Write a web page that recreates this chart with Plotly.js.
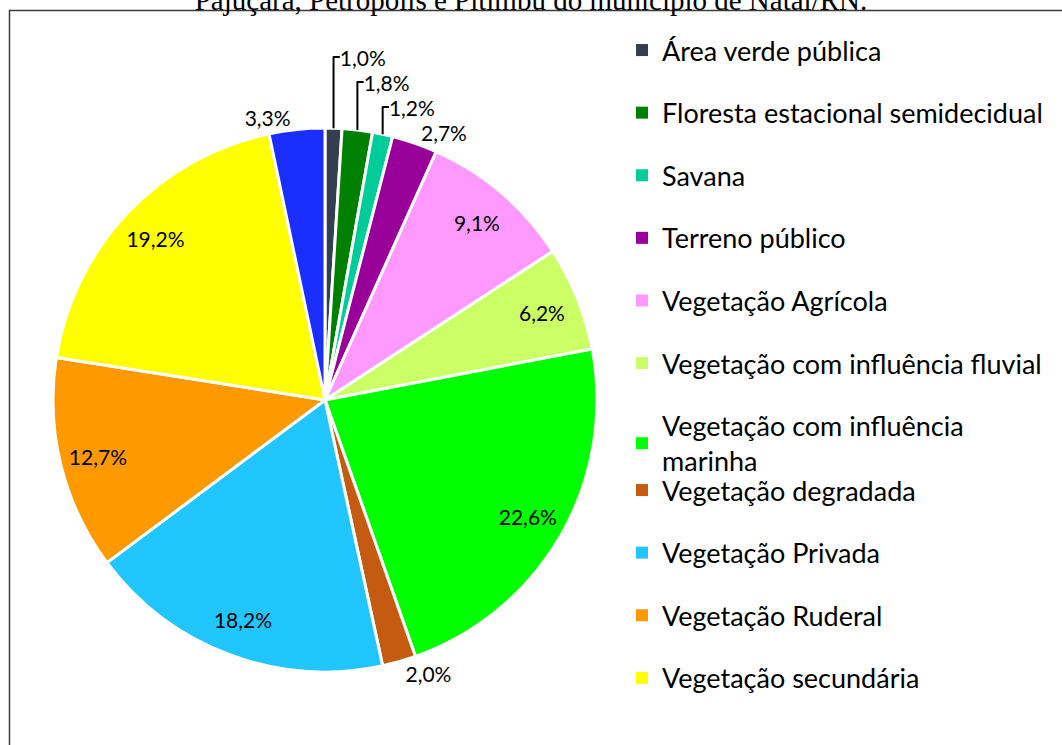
<!DOCTYPE html>
<html>
<head>
<meta charset="utf-8">
<script src="https://cdn.plot.ly/plotly-3.0.1.min.js"></script>
<style>html,body{margin:0;padding:0;background:#fff}#chart{width:1062px;height:745px}</style>
</head>
<body>
<div id="chart"></div>
<script>
// ---- data ----
const labels = [
  "Área verde pública",
  "Floresta estacional semidecidual",
  "Savana",
  "Terreno público",
  "Vegetação Agrícola",
  "Vegetação com influência fluvial",
  "Vegetação com influência marinha",
  "Vegetação degradada",
  "Vegetação Privada",
  "Vegetação Ruderal",
  "Vegetação secundária",
  "Outros"
];
const values = [1.0, 1.8, 1.2, 2.7, 9.1, 6.2, 22.6, 2.0, 18.2, 12.7, 19.2, 3.3];
const colors = ["#333F50", "#008000", "#00CC99", "#990099", "#FF99FF", "#CCFF66",
                "#00FF00", "#C55A11", "#21C5FF", "#FF9900", "#FFFF00", "#1A2EFF"];
const legendNames = [
  "Área verde pública",
  "Floresta estacional semidecidual",
  "Savana",
  "Terreno público",
  "Vegetação Agrícola",
  "Vegetação com influência fluvial",
  "Vegetação com influência<br>marinha",
  "Vegetação degradada",
  "Vegetação Privada",
  "Vegetação Ruderal",
  "Vegetação secundária"
];
const titleText = "Pajuçara, Petrópolis e Pitimbu do município de Natal/RN.";

// ---- chart ----
const W = 1062, H = 745;
const cx = 325, cy = 400, R = 272;
const FONT = "Lato, 'Noto Sans', sans-serif";
const LABEL_SIZE = 21;
const isLarge = values.map(v => v >= 5);
const domain = {x: [(cx - R) / W, (cx + R) / W], y: [1 - (cy + R) / H, 1 - (cy - R) / H]};

// main pie: slices + outside labels of the small slices
const pie = {
  type: "pie",
  labels: labels,
  values: values,
  sort: false,
  direction: "clockwise",
  rotation: 0,
  marker: {colors: colors, line: {color: "#FFFFFF", width: 3}},
  texttemplate: "%{value:.1f}%",
  textposition: isLarge.map(l => l ? "none" : "outside"),
  textfont: {family: FONT, size: LABEL_SIZE, color: "#000000"},
  outsidetextfont: {family: FONT, size: LABEL_SIZE, color: "#000000"},
  showlegend: false,
  automargin: false,
  hoverinfo: "label+percent",
  domain: domain
};

// transparent ring carrying the inside labels of the large slices (places them near the rim)
const ring = {
  type: "pie",
  labels: labels,
  values: values,
  sort: false,
  direction: "clockwise",
  rotation: 0,
  hole: 0.72,
  marker: {colors: values.map(() => "rgba(0,0,0,0)"), line: {width: 0}},
  texttemplate: "%{value:.1f}%",
  textposition: isLarge.map(l => l ? "inside" : "none"),
  insidetextorientation: "horizontal",
  textfont: {family: FONT, size: LABEL_SIZE, color: "#000000"},
  insidetextfont: {family: FONT, size: LABEL_SIZE, color: "#000000"},
  showlegend: false,
  automargin: false,
  hoverinfo: "skip",
  domain: domain
};

const legendTraces = legendNames.map((n, i) => ({
  type: "scatter",
  mode: "markers",
  x: [null], y: [null],
  name: n,
  legendgroup: "g" + i,
  legend: i < 7 ? "legend" : "legend2",
  marker: {symbol: "square", size: 12, color: colors[i]},
  hoverinfo: "skip"
}));

const legendCommon = {
  font: {family: FONT, size: 27, color: "#000000"},
  traceorder: "grouped",
  tracegroupgap: 24.5,
  bgcolor: "rgba(0,0,0,0)",
  xanchor: "left", yanchor: "top",
  itemclick: false, itemdoubleclick: false
};

const layout = {
  width: W, height: H,
  margin: {l: 0, r: 0, t: 0, b: 0},
  paper_bgcolor: "#FFFFFF",
  plot_bgcolor: "#FFFFFF",
  separators: ",.",
  showlegend: true,
  uniformtext: {mode: "show", minsize: LABEL_SIZE},
  title: {
    text: titleText,
    font: {family: "'Liberation Serif', 'Times New Roman', serif", size: 29, color: "#000000"},
    xref: "paper", x: 0.5, xanchor: "center",
    yref: "container", y: 1 + 13 / H, yanchor: "middle"
  },
  legend: Object.assign({}, legendCommon, {x: 622 / W, y: 1 - 26 / H}),
  legend2: Object.assign({}, legendCommon, {x: 622 / W, y: 1 - 466 / H}),
  xaxis: {visible: false},
  yaxis: {visible: false},
  shapes: [{
    type: "rect", xref: "paper", yref: "paper",
    x0: 9.5 / W, x1: 1.05, y0: -0.05, y1: 1 - 10.5 / H,
    line: {color: "#3A3A3A", width: 1.5}
  }]
};

Plotly.newPlot("chart", [pie, ring].concat(legendTraces), layout, {displayModeBar: false, staticPlot: true});
</script>
</body>
</html>
